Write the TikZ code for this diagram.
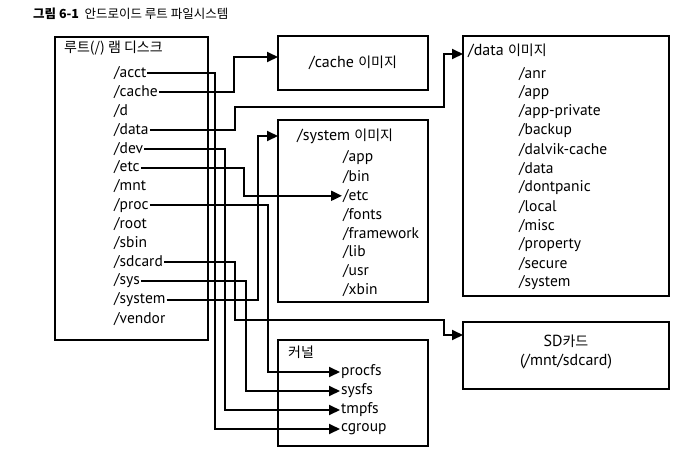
\documentclass[tikz,border=0pt]{standalone}
\usepackage{fontspec}
\setmainfont{PT Sans}
\newfontfamily\kr{Noto Sans CJK KR}
\usetikzlibrary{arrows.meta}
\begin{document}
\begin{tikzpicture}[x=1pt,y=-1pt,
 box/.style={draw,line width=2pt},
 it/.style={anchor=west,inner sep=1pt,font=\fontsize{15.5}{15.5}\selectfont},
 ln/.style={line width=2pt},
 ar/.style={ln,-{Triangle[length=11pt,width=10pt]}}]
\useasboundingbox (0,0) rectangle (678,458);
\node[anchor=west,inner sep=0] (ttl) at (33,14) {\kr\fontsize{12.5}{12.5}\selectfont\textbf{그림 6-1}\ \ 안드로이드 루트 파일시스템};
\draw[box] (55,37) rectangle (208,340);
\draw[box] (278,36) rectangle (428,90);
\draw[box] (278,120) rectangle (428,302);
\draw[box] (278,340) rectangle (428,446);
\draw[box] (463,36) rectangle (669,296);
\draw[box] (463,322) rectangle (669,389);
\node[anchor=west,inner sep=0] (lh) at (64,48) {\kr\fontsize{14}{14}\selectfont 루트(/) 램 디스크};
\foreach \n/\t [count=\i from 0] in {acct/acct,cache/cache,d/d,data/data,dev/dev,etc/etc,mnt/mnt,proc/proc,root/root,sbin/sbin,sdcard/sdcard,sys/sys,system/system,vendor/vendor}
  \node[it] (L\n) at (113,73+18.9*\i) {/\t};
\node (ch) at (353,63) {\fontsize{16}{16}\selectfont /cache {\kr\fontsize{14}{14}\selectfont 이미지}};
\node[anchor=west,inner sep=0] (sh) at (297,136) {\fontsize{16}{16}\selectfont /system {\kr\fontsize{14}{14}\selectfont 이미지}};
\foreach \n [count=\i from 0] in {app,bin,etc,fonts,framework,lib,usr,xbin}
  \node[it] (S\n) at (342,158+18.9*\i) {/\n};
\node[anchor=west,inner sep=0] (dh) at (468,51) {\fontsize{16}{16}\selectfont /data {\kr\fontsize{14}{14}\selectfont 이미지}};
\foreach \n [count=\i from 0] in {anr,app,app-private,backup,dalvik-cache,data,dontpanic,local,misc,property,secure,system}
  \node[it] (D\i) at (518,74+19*\i) {/\n};
\node[anchor=west,inner sep=0] (kh) at (288,352) {\kr\fontsize{14}{14}\selectfont 커널};
\foreach \n [count=\i from 0] in {procfs,sysfs,tmpfs,cgroup}
  \node[it] (K\n) at (340,372+19*\i) {\n};
\node (sd1) at (566,341) {\fontsize{16}{16}\selectfont SD{\kr\fontsize{14}{14}\selectfont 카드}};
\node (sd2) at (566,362) {\fontsize{16}{16}\selectfont (/mnt/sdcard)};
\coordinate (cacheIn) at (278,57);
\coordinate (sysIn) at (278,136);
\coordinate (dataIn) at (463,54);
\coordinate (sdIn) at (463,335);
\draw[ar] (Lacct.east) -| (215,0|-Kcgroup.west) -- (Kcgroup.west);
\draw[ar] (Lcache.east) -| (234,57) -- (cacheIn);
\draw[ar] (Ldata.east) -| (235,107) -| (444,54) -- (dataIn);
\draw[ar] (Ldev.east) -| (225,0|-Ktmpfs.west) -- (Ktmpfs.west);
\draw[ar] (Letc.east) -| (244,0|-Setc.west) -- (Setc.west);
\draw[ar] (Lproc.east) -| (268,0|-Kprocfs.west) -- (Kprocfs.west);
\draw[ar] (Lsdcard.east) -| (235,320) -| (444,335) -- (sdIn);
\draw[ar] (Lsys.east) -| (246,0|-Ksysfs.west) -- (Ksysfs.west);
\draw[ar] (Lsystem.east) -| (258,136) -- (sysIn);
\end{tikzpicture}
\end{document}
